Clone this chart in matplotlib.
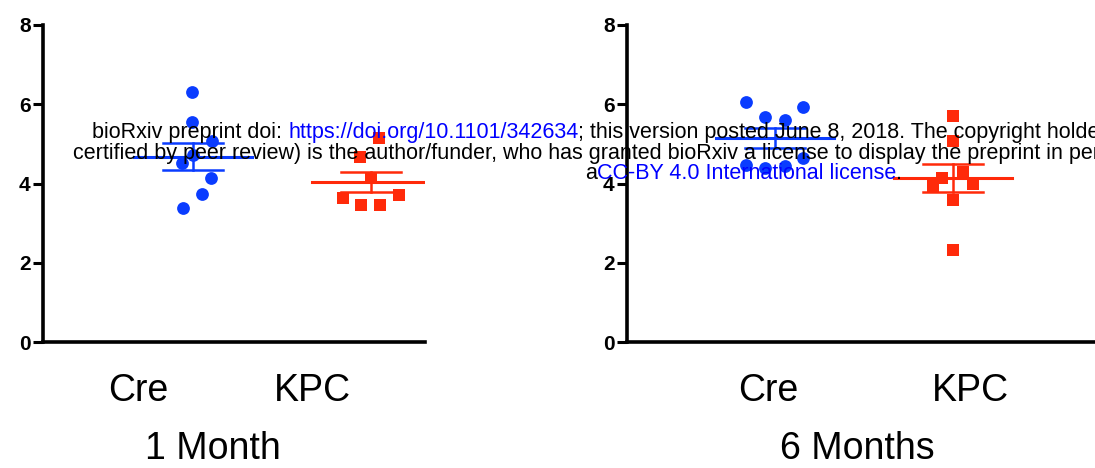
import matplotlib
matplotlib.use("Agg")
import matplotlib.pyplot as plt
import numpy as np

plt.rcParams['font.family'] = ['Liberation Sans', 'DejaVu Sans']

# values
groups = ['Cre', 'KPC']
cre_1m = [6.30, 5.56, 5.06, 4.72, 4.51, 4.13, 3.73, 3.37]
kpc_1m = [5.14, 4.68, 4.13, 3.63, 3.71, 3.46, 3.46]
cre_6m = [6.05, 5.92, 5.69, 5.61, 4.47, 4.39, 4.43, 4.64]
kpc_6m = [5.71, 5.06, 4.30, 4.13, 4.00, 3.93, 3.59, 2.32]
panel_titles = ['1 Month', '6 Months']
y_ticks = [0, 2, 4, 6, 8]

# horizontal scatter of the dots (pixels, relative to group centre)
jit_cre_1m = [-1, -1, 19, 0, -11, 18, 9, -10]
jit_kpc_1m = [8, -11, 0, -28, 28, -10, 9]
jit_cre_6m = [-29, 28, -10, 10, -29, -10, 10, 28]
jit_kpc_6m = [0, 0, 10, -11, 20, -20, 0, 0]

BLUE = '#0a3cff'
RED = '#ff2a0a'
PX = 177.5  # pixels per x unit (distance between groups)

W, H = 1095, 468
fig = plt.figure(figsize=(W / 100, H / 100), dpi=100)

# axes placed in pixels: left, right edges
ax_left = fig.add_axes([43 / W, (H - 342) / H, (425 - 43) / W, 317 / H])
ax_right = fig.add_axes([627 / W, (H - 342) / H, (W - 627) / W + 0.01, 317 / H])

panels = [
    (ax_left, [cre_1m, kpc_1m], [jit_cre_1m, jit_kpc_1m], 150, [138, 312], 213),
    (ax_right, [cre_6m, kpc_6m], [jit_cre_6m, jit_kpc_6m], 148, [768, 970], 857),
]

for i, (ax, data, jits, offset, lab_px, title_px) in enumerate(panels):
    x0 = ax.get_position().x0 * W
    width_px = ax.get_position().width * W
    xmin = 1 - offset / PX
    ax.set_xlim(xmin, xmin + width_px / PX)
    ax.set_ylim(0, 8)

    for g, (vals, jit, col, mk, ms) in enumerate(zip(data, jits, [BLUE, RED], ['o', 's'], [9.2, 9.2])):
        pos = g + 1
        vals = np.array(vals)
        xs = pos + np.array(jit) / PX
        ax.plot(xs, vals, linestyle='none', marker=mk, ms=ms, color=col,
                markeredgewidth=0, zorder=3, clip_on=False)
        m = vals.mean()
        sem = vals.std(ddof=1) / np.sqrt(len(vals))
        ax.plot([pos - 59 / PX, pos + 59 / PX], [m, m], color=col, lw=2.2, zorder=4)
        ax.plot([pos - 30 / PX, pos + 30 / PX], [m + sem, m + sem], color=col, lw=1.8, zorder=4)
        ax.plot([pos - 30 / PX, pos + 30 / PX], [m - sem, m - sem], color=col, lw=1.8, zorder=4)
        ax.plot([pos, pos], [m - sem, m + sem], color=col, lw=1.8, zorder=4)

    ax.spines['top'].set_visible(False)
    ax.spines['right'].set_visible(False)
    ax.spines['left'].set_linewidth(2.6)
    ax.spines['bottom'].set_linewidth(2.6)
    ax.set_yticks(y_ticks)
    ax.set_yticklabels([str(t) for t in y_ticks], fontsize=15, fontweight='bold')
    ax.tick_params(axis='y', length=7, width=2.2, pad=2)
    ax.set_xticks([xmin + (p - x0) / PX for p in lab_px])
    ax.set_xticklabels(groups, fontsize=27)
    ax.tick_params(axis='x', length=0, pad=22)
    ax.patch.set_alpha(0)

    fig.text(title_px / W, 1 - 449 / H, panel_titles[i], fontsize=27,
             ha='center', va='center')

# bioRxiv watermark, drawn piece by piece
lines = [
    (92, 138, [("bioRxiv preprint doi: ", 'black'),
               ("https://doi.org/10.1101/342634", '#0000ff'),
               ("; this version posted June 8, 2018. The copyright holder for this preprint (which was not", 'black')]),
    (73, 159, [("certified by peer review) is the author/funder, who has granted bioRxiv a license to display the preprint in perpetuity. It is made available under", 'black')]),
    (585, 179, [("a", 'black'),
                ("CC-BY 4.0 International license", '#0000ff'),
                (".", 'black')]),
]
renderer = fig.canvas.get_renderer()
for x_px, base_px, pieces in lines:
    x = x_px
    for txt, col in pieces:
        t = fig.text(x / W, 1 - base_px / H, txt, fontsize=15.5, color=col,
                     ha='left', va='baseline', zorder=10)
        bb = t.get_window_extent(renderer=renderer)
        x = bb.x1

fig.savefig('out.png', dpi=100)
